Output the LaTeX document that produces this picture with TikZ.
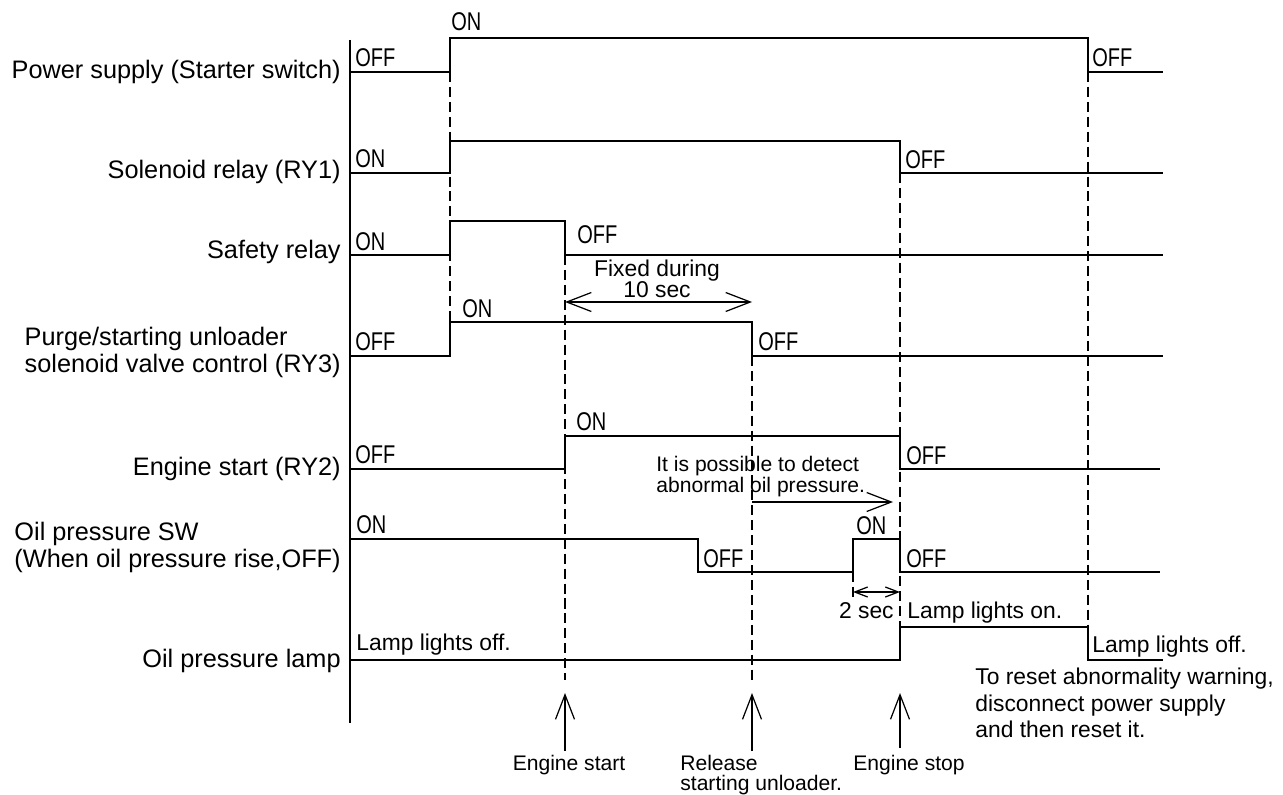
\documentclass[tikz,border=0pt]{standalone}
\usepackage{fontspec}
\setmainfont{Liberation Sans}
\newfontfamily\stfont[FakeStretch=0.78]{Liberation Sans}
\usetikzlibrary{arrows.meta}

\begin{document}
\begin{tikzpicture}[x=0.02cm, y=-0.02cm,
  sig/.style={line width=0.7pt},
  guide/.style={line width=0.6pt, dash pattern=on 5.7pt off 2.8pt},
  st/.style={anchor=base west, inner sep=0pt, font={\stfont\fontsize{14.6}{14.6}\selectfont}},
  lbl/.style={inner sep=0pt, font={\fontsize{14.4}{15.3}\selectfont}},
  note/.style={inner sep=0pt, font={\fontsize{13}{15}\selectfont}},
  smalltxt/.style={inner sep=0pt, font={\fontsize{12}{11.5}\selectfont}},
  arr/.style={line width=0.7pt, -{Straight Barb[length=14pt, width=10.8pt]}},
  darr/.style={line width=0.7pt, {Straight Barb[length=14pt, width=10.8pt]}-{Straight Barb[length=14pt, width=10.8pt]}},
  sarr/.style={line width=0.7pt, {Straight Barb[length=7.4pt, width=5.7pt]}-{Straight Barb[length=7.4pt, width=5.7pt]}},
]
\useasboundingbox (0,0) rectangle (1283,794);

% signal names
\node[lbl, anchor=base east] (power) at (341,79) {Power supply (Starter switch)};
\node[lbl, anchor=base east] (ry1) at (341,178) {Solenoid relay (RY1)};
\node[lbl, anchor=base east] (safety) at (341,258) {Safety relay};
\node[lbl, anchor=north east, align=left] (ry3) at (341,327) {Purge/starting unloader\\solenoid valve control (RY3)};
\node[lbl, anchor=base east] (ry2) at (341,475) {Engine start (RY2)};
\node[lbl, anchor=north east, align=left] (oilsw) at (341,522) {Oil pressure SW\\(When oil pressure rise,OFF)};
\node[lbl, anchor=base east] (lamp) at (341,667) {Oil pressure lamp};

% time axis
\draw[sig] (350,40) -- (350,723);

% waveforms
\draw[sig] (350,72) -- (450,72) -- (450,38) -- (1088,38) -- (1088,72) -- (1163,72);
\draw[sig] (350,173) -- (450,173) -- (450,141) -- (900,141) -- (900,173) -- (1163,173);
\draw[sig] (350,255) -- (450,255) -- (450,221) -- (565,221) -- (565,255) -- (1163,255);
\draw[sig] (350,356) -- (450,356) -- (450,322) -- (752,322) -- (752,356) -- (1163,356);
\draw[sig] (350,469) -- (565,469) -- (565,436) -- (900,436) -- (900,469) -- (1160,469);
\draw[sig] (350,539) -- (698,539) -- (698,572) -- (853,572) -- (853,539) -- (900,539) -- (900,572) -- (1160,572);
\draw[sig] (350,660) -- (900,660) -- (900,627) -- (1088,627) -- (1088,660) -- (1163,660);

% dashed guides
\draw[guide] (450,72) -- (450,322);
\draw[guide] (565,255) -- (565,680);
\draw[guide] (752,356) -- (752,680);
\draw[guide] (900,173) -- (900,660);
\draw[guide] (1088,72) -- (1088,627);
\draw[guide] (853,572) -- (853,600);

% states
\node[st] (p0) at (355,67) {OFF};
\node[st] (p1) at (451,31) {ON};
\node[st] (p2) at (1092,67) {OFF};
\node[st] (r0) at (355,167) {ON};
\node[st] (r1) at (905,168) {OFF};
\node[st] (s0) at (355,250) {ON};
\node[st] (s1) at (577,243) {OFF};
\node[st] (u0) at (355,350) {OFF};
\node[st] (u1) at (462,317) {ON};
\node[st] (u2) at (758,350) {OFF};
\node[st] (e0) at (355,463) {OFF};
\node[st] (e1) at (576,430) {ON};
\node[st] (e2) at (906,464) {OFF};
\node[st] (o0) at (356,533) {ON};
\node[st] (o1) at (703,567) {OFF};
\node[st] (o2) at (856,534) {ON};
\node[st] (o3) at (906,567) {OFF};
\node[note, anchor=base west] (l0) at (356,650) {Lamp lights off.};
\node[note, anchor=base west] (l1) at (907,618) {Lamp lights on.};
\node[note, anchor=base west] (l2) at (1092,652) {Lamp lights off.};

% intervals
\coordinate (fixA) at (565,302);
\coordinate (fixB) at (752,302);
\draw[darr] (fixA) -- (fixB);
\node[note, anchor=north, align=center, font={\fontsize{13}{11.9}\selectfont}] (fix) at (657,260) {Fixed during\\10 sec};
\coordinate (detA) at (752,502);
\coordinate (detB) at (893,502);
\draw[arr] (detA) -- (detB);
\node[smalltxt, anchor=north west, align=left, font={\fontsize{12}{11.9}\selectfont}] (det) at (656,456) {It is possible to detect\\abnormal oil pressure.};
\coordinate (twoA) at (853,592);
\coordinate (twoB) at (900,592);
\draw[sarr] (twoA) -- (twoB);
\node[note, anchor=base east] (two) at (894,618) {2 sec};
\node[note, anchor=north west, align=left] (reset) at (975,668) {To reset abnormality warning,\\disconnect power supply\\and then reset it.};

% events
\coordinate (ev1) at (565,751);
\coordinate (ev1t) at (565,693);
\coordinate (ev2) at (752,751);
\coordinate (ev2t) at (752,693);
\coordinate (ev3) at (900,748);
\coordinate (ev3t) at (900,693);
\draw[arr] (ev1) -- (ev1t);
\draw[arr] (ev2) -- (ev2t);
\draw[arr] (ev3) -- (ev3t);
\node[smalltxt, anchor=base] (start) at (569,770) {Engine start};
\node[smalltxt, anchor=north west, align=left] (release) at (680,755) {Release\\starting unloader.};
\node[smalltxt, anchor=base] (stop) at (909,770) {Engine stop};
\end{tikzpicture}
\end{document}
